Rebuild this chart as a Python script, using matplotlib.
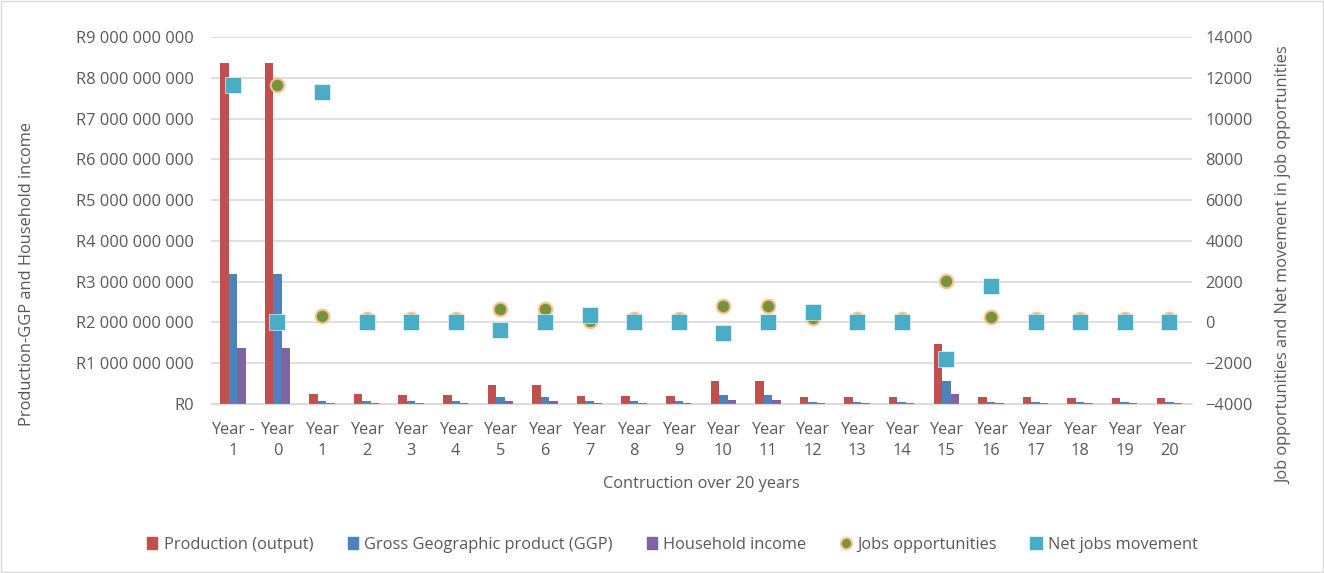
import numpy as np
import matplotlib.pyplot as plt
from matplotlib.ticker import FuncFormatter
from matplotlib.lines import Line2D
from matplotlib.patches import Patch

years = ["Year -\n1", "Year\n0"] + ["Year\n%d" % i for i in range(1, 21)]

production = [8.36e9, 8.36e9, 0.245e9, 0.24e9, 0.225e9, 0.215e9, 0.47e9, 0.47e9,
              0.20e9, 0.195e9, 0.19e9, 0.57e9, 0.57e9, 0.18e9, 0.17e9, 0.165e9,
              1.47e9, 0.17e9, 0.16e9, 0.155e9, 0.15e9, 0.14e9]
ggp = [3.19e9, 3.19e9, 0.085e9, 0.08e9, 0.075e9, 0.07e9, 0.18e9, 0.18e9,
       0.07e9, 0.065e9, 0.065e9, 0.22e9, 0.22e9, 0.06e9, 0.06e9, 0.06e9,
       0.56e9, 0.06e9, 0.055e9, 0.055e9, 0.05e9, 0.05e9]
household = [1.37e9, 1.37e9, 0.03e9, 0.03e9, 0.028e9, 0.027e9, 0.07e9, 0.07e9,
             0.025e9, 0.025e9, 0.024e9, 0.09e9, 0.09e9, 0.022e9, 0.021e9, 0.02e9,
             0.24e9, 0.02e9, 0.02e9, 0.019e9, 0.018e9, 0.018e9]
jobs = [11670, 11670, 330, 150, 150, 150, 670, 670, 60, 150, 150, 800, 800,
        200, 150, 150, 2040, 250, 150, 150, 150, 150]
net_jobs = [11660, 0, 11310, 0, 0, 0, -360, 0, 350, 0, 0, -540, 0, 525,
            0, 0, -1810, 1800, 0, 0, 0, 0]

c_prod = "#C0504D"
c_ggp = "#4F81BD"
c_hh = "#8064A2"
c_jobs = "#77933C"
c_jobs_edge = "#FAC090"
c_net = "#4BACC6"
txt = "#595959"
fs = 11.8

plt.rcParams['font.family'] = ['Open Sans', 'DejaVu Sans']

fig = plt.figure(figsize=(13.24, 5.73), dpi=100)
ax = fig.add_axes([0.159, 0.295, 0.741, 0.640])
ax2 = ax.twinx()

x = np.arange(len(years))
w = 0.19
ax.bar(x - w, production, w, color=c_prod, zorder=2)
ax.bar(x, ggp, w, color=c_ggp, zorder=2)
ax.bar(x + w, household, w, color=c_hh, zorder=2)

ax2.scatter(x, jobs, s=95, color=c_jobs, edgecolor=c_jobs_edge, linewidth=1.5, zorder=3)
ax2.scatter(x, net_jobs, s=125, marker="s", color=c_net, edgecolor="white", linewidth=0.4, zorder=4)

ax.set_xlim(-0.5, len(years) - 0.5)
ax.set_ylim(0, 9e9)
ax.set_yticks(np.arange(0, 9.01e9, 1e9))


def rand(v, pos):
    s = "{:,.0f}".format(v).replace(",", " ")
    return "R" + s


ax.yaxis.set_major_formatter(FuncFormatter(rand))
ax2.set_ylim(-4000, 14000)
ax2.set_yticks(np.arange(-4000, 14001, 2000))

ax.set_xticks(x)
ax.set_xticklabels(years, linespacing=1.45)
ax.grid(axis="y", color="#D9D9D9", linewidth=1.2, zorder=0)
ax.set_axisbelow(True)

for a in (ax, ax2):
    for s in ("top", "left", "right"):
        a.spines[s].set_visible(False)
    a.spines["bottom"].set_color("#D9D9D9")
    a.tick_params(length=0, colors=txt, labelsize=fs)
ax.tick_params(axis="x", pad=13)
ax.tick_params(axis="y", pad=12)
ax2.tick_params(axis="y", pad=10)

ax.set_xlabel("Contruction over 20 years", color=txt, fontsize=fs, labelpad=12)
ax.set_ylabel("Production-GGP and Household income", color=txt, fontsize=fs)
ax2.set_ylabel("Job opportunities and Net movement in job opportunities", color=txt, fontsize=fs)
ax.yaxis.set_label_coords(-0.179, 0.354)
ax2.yaxis.set_label_coords(1.086, 0.379)

handles = [
    Patch(color=c_prod),
    Patch(color=c_ggp),
    Patch(color=c_hh),
    Line2D([], [], marker="o", linestyle="", markersize=8, markerfacecolor=c_jobs,
           markeredgecolor=c_jobs_edge, markeredgewidth=1.5),
    Line2D([], [], marker="s", linestyle="", markersize=9, markerfacecolor=c_net,
           markeredgecolor=c_net),
]
labels = ["Production (output)", "Gross Geographic product (GGP)", "Household income",
          "Jobs opportunities", "Net jobs movement"]
fig.legend(handles, labels, loc="center", bbox_to_anchor=(0.508, 0.049), ncol=5,
           frameon=False, fontsize=fs, labelcolor=txt, columnspacing=2.1,
           handlelength=0.6, handletextpad=0.4)

fig.patches.append(plt.Rectangle((0.001, 0.001), 0.998, 0.998, transform=fig.transFigure,
                                 fill=False, edgecolor="#D9D9D9", linewidth=1))

fig.savefig("out.png", dpi=100)
